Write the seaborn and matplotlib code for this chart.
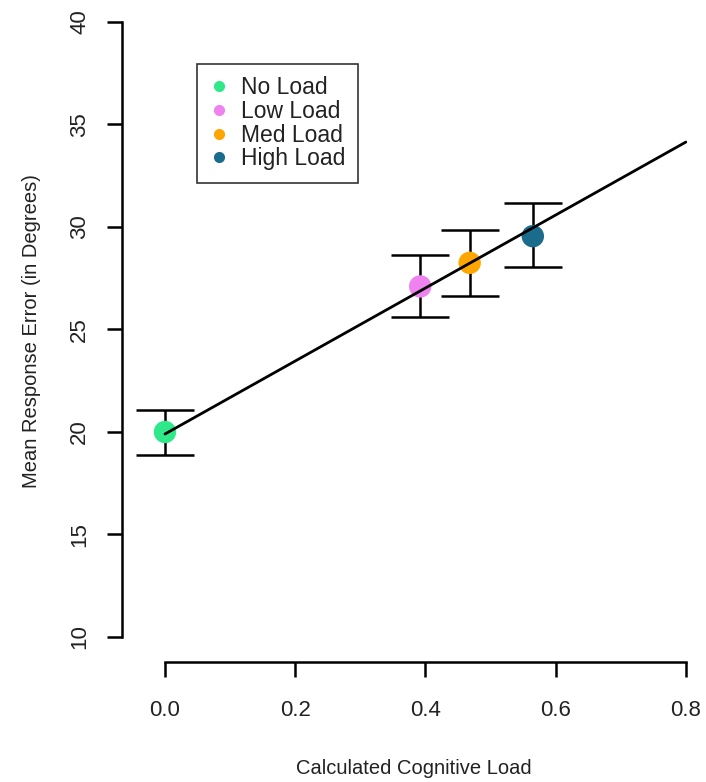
import numpy as np
import pandas as pd
import matplotlib
matplotlib.use("Agg")
import matplotlib.pyplot as plt
import seaborn as sns

# Data
conditions = ["No Load", "Low Load", "Med Load", "High Load"]
cognitive_load = [0.0, 0.392, 0.468, 0.565]
mean_error = [20.0, 27.1, 28.25, 29.55]
err_upper = [21.05, 28.65, 29.85, 31.15]
err_lower = [18.9, 25.6, 26.65, 28.05]
colors = ["#2EE88A", "#EE82EE", "#FFA500", "#1B6C8C"]

# fitted regression line (intercept, slope) as drawn in the reference
fit_intercept = 19.9
fit_slope = 17.8
x_ticks = [0.0, 0.2, 0.4, 0.6, 0.8]
y_ticks = [10, 15, 20, 25, 30, 35, 40]

df = pd.DataFrame({"condition": conditions, "load": cognitive_load,
                   "error": mean_error, "hi": err_upper, "lo": err_lower})

sns.set_style("white")
plt.rcParams["font.family"] = ["Liberation Sans", "DejaVu Sans"]

fig = plt.figure(figsize=(7.06, 7.82), dpi=100)
W, H = 706, 782
ax = fig.add_axes([122 / W, 1 - 662 / H, (706 - 122) / W, 662 / H])

# error bars
yerr = np.array([df["error"] - df["lo"], df["hi"] - df["error"]])
ax.errorbar(df["load"], df["error"], yerr=yerr, fmt="none", ecolor="black",
            elinewidth=1.8, capsize=21, capthick=1.8, zorder=1)

# points
sns.scatterplot(data=df, x="load", y="error", hue="condition",
                palette=colors, s=260, edgecolor="none", legend=False,
                ax=ax, zorder=2)

# regression line
line_x = np.array([x_ticks[0], x_ticks[-1]])
line_df = pd.DataFrame({"x": line_x, "y": fit_intercept + fit_slope * line_x})
sns.lineplot(data=line_df, x="x", y="y", color="black", lw=2, ax=ax, zorder=3)

ax.set_xlim(-0.066, 0.831)
ax.set_ylim(8.78, 41.07)

# R-style detached axes
for s in ["top", "right"]:
    ax.spines[s].set_visible(False)
for s in ["left", "bottom"]:
    ax.spines[s].set_color("black")
    ax.spines[s].set_linewidth(1.8)
ax.spines["left"].set_bounds(y_ticks[0], y_ticks[-1])
ax.spines["bottom"].set_bounds(x_ticks[0], x_ticks[-1])

ax.set_xticks(x_ticks)
ax.set_xticklabels([f"{t:.1f}" for t in x_ticks])
ax.set_yticks(y_ticks)
ax.set_yticklabels([str(t) for t in y_ticks], rotation=90, va="center")
ax.tick_params(axis="both", direction="out", length=11, width=1.8,
               colors="black", labelcolor="#222222", labelsize=16,
               left=True, bottom=True)
ax.tick_params(axis="x", pad=16)
ax.tick_params(axis="y", pad=12)

ax.set_xlabel("Calculated Cognitive Load", fontsize=14.5, color="#222222",
              labelpad=28)
ax.set_ylabel("Mean Response Error (in Degrees)", fontsize=14.5,
              color="#222222", labelpad=20)

# legend
handles = [plt.Line2D([], [], marker="o", ls="none", color=c, markersize=7)
           for c in colors]
leg = ax.legend(handles, conditions, loc="upper left",
                bbox_to_anchor=(0.128, 0.904), borderaxespad=0,
                fontsize=16.5, frameon=True, fancybox=False, labelspacing=0.03,
                handlelength=0.8, handletextpad=0.6, borderpad=0.55)
leg.get_frame().set_edgecolor("black")
leg.get_frame().set_linewidth(1.2)
for t in leg.get_texts():
    t.set_color("#222222")

fig.savefig("out.png", dpi=100, facecolor="white")
